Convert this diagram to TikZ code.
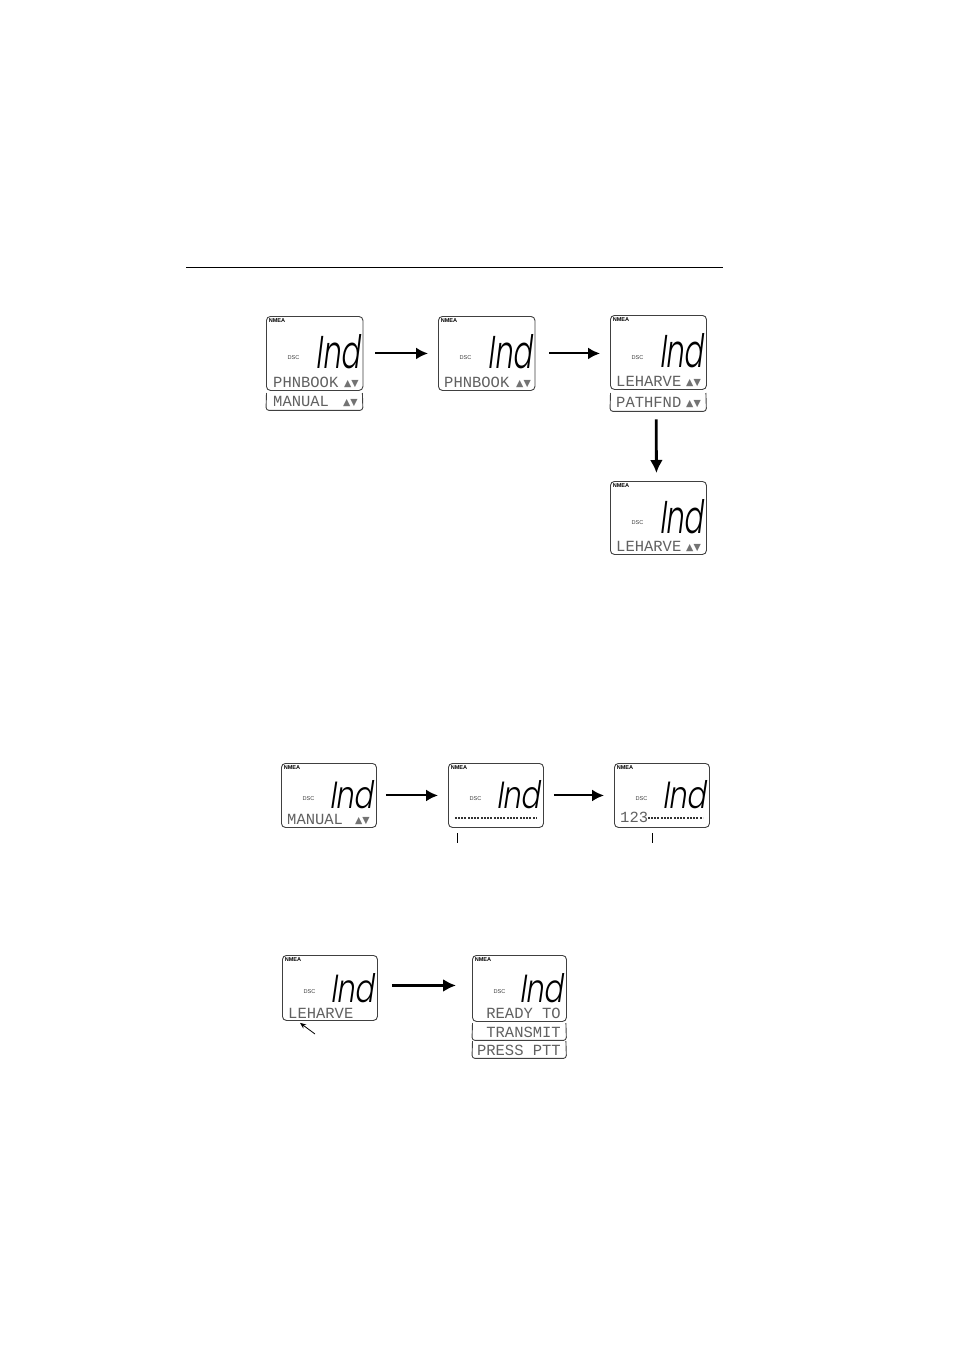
\documentclass[tikz,border=0pt]{standalone}
\usepackage{fontspec}
\setmainfont{Liberation Sans}
\newfontfamily\lcdfont{Liberation Mono}
\newfontfamily\symfont{DejaVu Sans}
\newfontfamily\indfont[FakeSlant=0.2]{Poppins Light}
\usetikzlibrary{arrows.meta,calc}
\definecolor{lcdgray}{gray}{0.38}
\tikzset{
  screen/.style={draw=black!75,line width=0.9pt,rounded corners=4pt,inner sep=0pt,anchor=north west},
  subbox/.style={inner sep=0pt,anchor=north west},
  subline/.style={draw=black!75,line width=0.9pt,rounded corners=3pt},
  flow/.style={-{Latex[length=12pt,width=12pt]},line width=2pt,black},
  flowthick/.style={-{Latex[length=13pt,width=13pt]},line width=2.8pt,black},
  thin line/.style={line width=0.8pt,black},
  lcdtext/.style={inner sep=0pt,anchor=base west,text=lcdgray,font=\fontsize{15.5pt}{16pt}\lcdfont},
  updown/.style={inner sep=0pt,anchor=base east,text=black!55,font=\fontsize{9.5pt}{10pt}\symfont},
  nmea label/.style={inner sep=0pt,font=\fontsize{5.6pt}{6pt}\bfseries},
  dsc label/.style={inner sep=0pt,text=black!75,font=\fontsize{5.6pt}{6pt}\selectfont},
  bigind/.style={inner sep=0pt,anchor=north east},
  dots/.style={line width=1.1pt,black!80,dash pattern=on 2pt off 1pt on 2pt off 1pt on 2pt off 1pt on 2pt off 2pt}
}
% name, left, top, width, height, dsc dy, ind top dy, ind height
\newcommand{\lcdscreen}[8]{%
  \node[screen,minimum width=#4pt,minimum height=#5pt] (#1) at (#2,#3) {};
  \node[nmea label] (#1nmea) at ($(#1.north west)+(11,5)$) {NMEA};
  \node[dsc label] (#1dsc) at ($(#1.north west)+(27.5,#6)$) {DSC};
  \node[bigind] (#1ind) at ($(#1.north east)+(-3.5,#7)$) {\resizebox{44pt}{#8pt}{\indfont Ind}};
}
\newcommand{\lcdsub}[5]{%
  \node[subbox,minimum width=#4pt,minimum height=#5pt] (#1) at (#2,#3) {};
  \draw[subline] ($(#1.north west)+(0.5,0)$) -- (#1.south west) -- (#1.south east) -- ($(#1.north east)+(-0.5,0)$);
}
\begin{document}
\begin{tikzpicture}[x=1pt,y=-1pt]
\useasboundingbox[fill=white] (0,0) rectangle (954,1351);
\draw[line width=1pt,black] (186,267) coordinate (rulea) -- (723,267) coordinate (ruleb);

% Row 1
\lcdscreen{a}{266}{316}{96.5}{74}{42}{18}{34}
\node[lcdtext] (atxt) at (273,387) {PHNBOOK};
\node[updown] (aud) at (359,386) {▲▼};
\lcdsub{asub}{266}{393}{96.5}{17}
\node[lcdtext] (asubtxt) at (273,406) {MANUAL};
\node[updown] (asubud) at (358,405) {▲▼};

\lcdscreen{b}{438}{316}{96.5}{74}{42}{18}{34}
\node[lcdtext] (btxt) at (444,387) {PHNBOOK};
\node[updown] (bud) at (531,386) {▲▼};

\lcdscreen{c}{610}{315}{96}{74}{43}{18}{34}
\node[lcdtext] (ctxt) at (616,386) {LEHARVE};
\node[updown] (cud) at (701,385) {▲▼};
\lcdsub{csub}{610}{393}{96}{18}
\node[lcdtext] (csubtxt) at (616,407) {PATHFND};
\node[updown] (csubud) at (701,406) {▲▼};

\lcdscreen{d}{610}{481}{96}{73}{42}{18}{34}
\node[lcdtext] (dtxt) at (616,551) {LEHARVE};
\node[updown] (dud) at (701,550) {▲▼};

\draw[flow] (a.east) [shorten <=12pt,shorten >=10pt] -- (b.west);
\draw[flow] (b.east) [shorten <=14pt,shorten >=10pt] -- (c.west |- b.east);
\draw[flowthick] ([xshift=-2pt]csub.south) [shorten <=8pt,shorten >=8pt] -- ([xshift=-2pt]d.north);

% Row 2
\lcdscreen{e}{281}{763}{95}{64}{36}{17}{28}
\node[lcdtext] (etxt) at (287,824) {MANUAL};
\node[updown] (eud) at (370,823) {▲▼};

\lcdscreen{f}{448}{763}{95}{64}{36}{17}{28}
\draw[dots] (455,818) coordinate (fdl) -- (537,818) coordinate (fdr);
\coordinate (ftick) at (457,833);
\draw[thin line] (ftick) -- ++(0,10);

\lcdscreen{g}{614}{763}{95}{64}{36}{17}{28}
\node[lcdtext] (gtxt) at (620,822) {123};
\draw[dots] (648,818) coordinate (gdl) -- (703,818) coordinate (gdr);
\coordinate (gtick) at (652,833);
\draw[thin line] (gtick) -- ++(0,10);

\draw[flow] (e.east) [shorten <=9pt,shorten >=10pt] -- (f.west);
\draw[flow] (f.east) [shorten <=10pt,shorten >=10pt] -- (g.west);

% Row 3
\lcdscreen{h}{282}{955}{95}{65}{37}{18}{29}
\node[lcdtext] (htxt) at (288,1018) {LEHARVE};
\coordinate (hptr) at (315,1034);
\draw[-{Stealth[length=6pt,width=5pt]},line width=0.8pt] (hptr) -- ($(h.south west)+(18,2)$);

\lcdscreen{i}{472}{955}{94}{66}{37}{18}{29}
\node[lcdtext,anchor=base east] (itxt) at (561,1018) {READY TO};
\lcdsub{isuba}{472}{1023}{94}{17}
\node[lcdtext,anchor=base east] (isubatxt) at (561,1037) {TRANSMIT};
\lcdsub{isubb}{472}{1041}{94}{17}
\node[lcdtext,anchor=base east] (isubbtxt) at (561,1055) {PRESS PTT};

\coordinate (hout) at ([yshift=2.5pt]h.east);
\draw[flowthick] (hout) [shorten <=14pt,shorten >=16pt] -- (hout -| i.west);
\end{tikzpicture}
\end{document}
